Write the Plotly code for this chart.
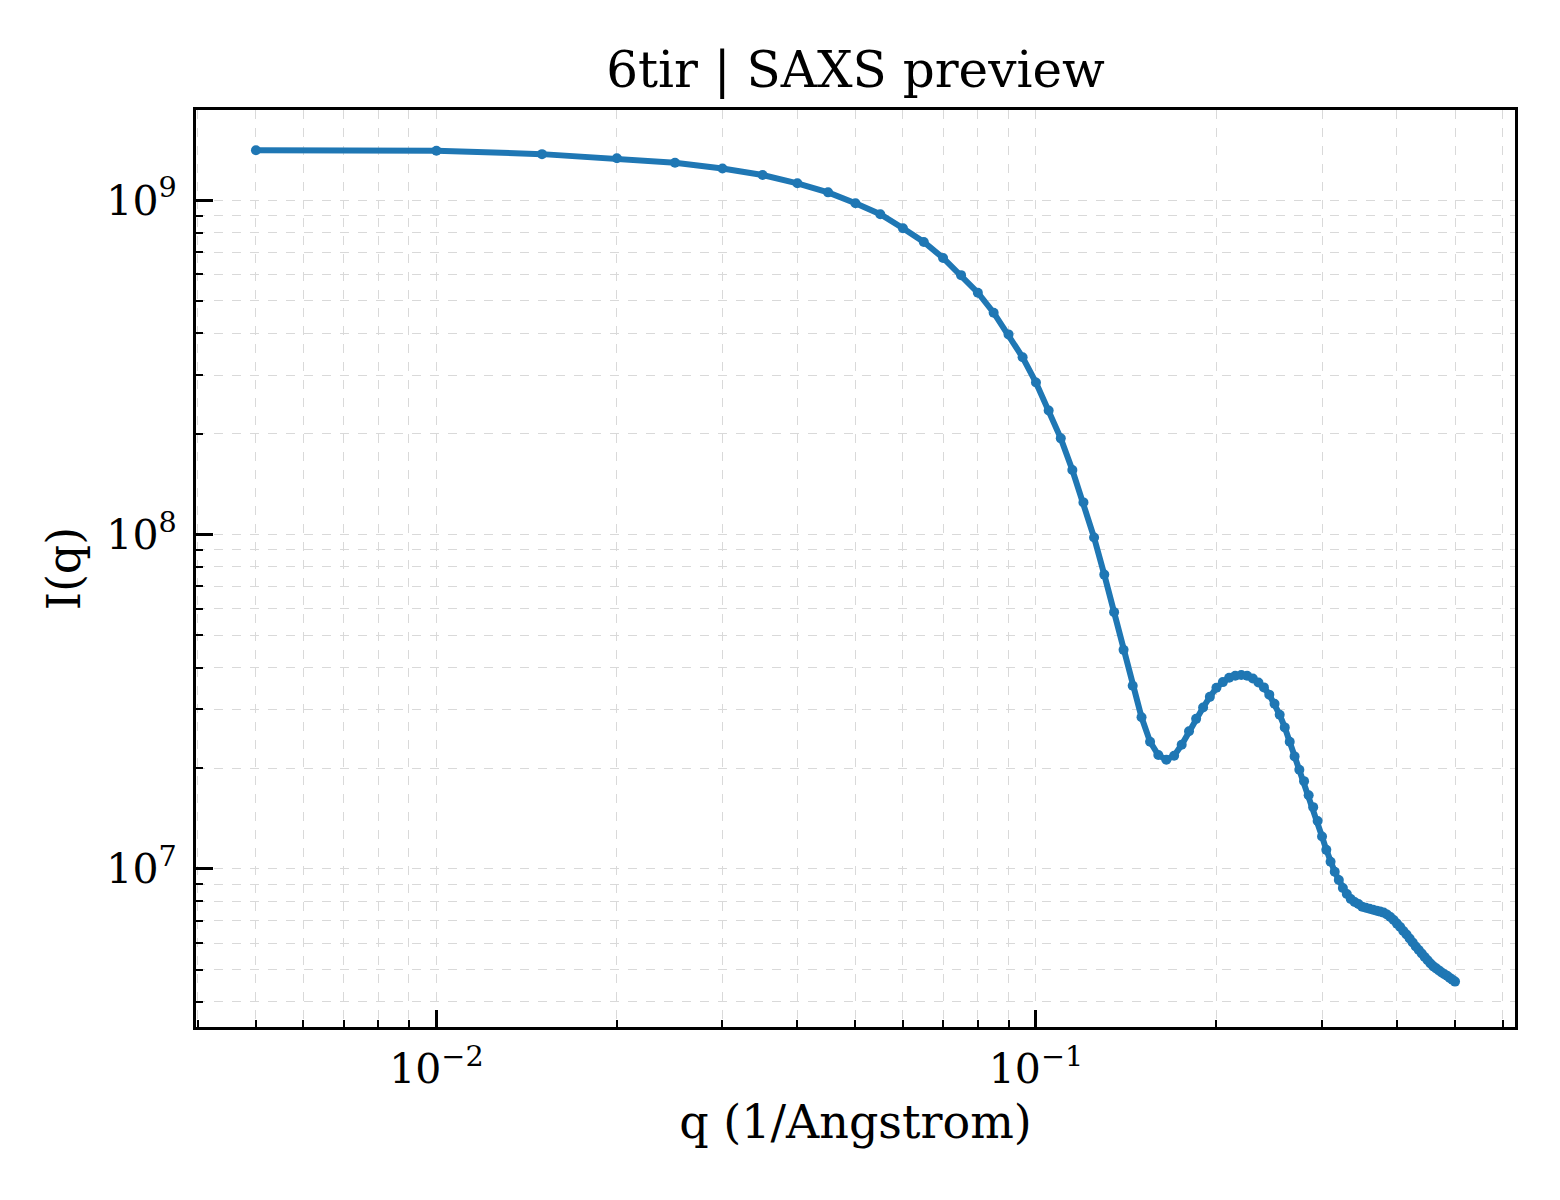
import plotly.graph_objects as go

# q grid of the SAXS profile (1/Angstrom)
q = [round(0.005 * i, 3) for i in range(1, 101)]

# intensity
intensity = [
    1.412e9, 1.406e9, 1.374e9, 1.336e9, 1.295e9, 1.245e9, 1.190e9, 1.124e9, 1.056e9, 9.80e8,
    9.08e8, 8.25e8, 7.50e8, 6.72e8, 5.97e8, 5.29e8, 4.61e8, 3.97e8, 3.39e8, 2.85e8,
    2.35e8, 1.94e8, 1.56e8, 1.248e8, 9.80e7, 7.59e7, 5.86e7, 4.52e7, 3.53e7, 2.84e7,
    2.40e7, 2.19e7, 2.12e7, 2.18e7, 2.35e7, 2.58e7, 2.81e7, 3.04e7, 3.27e7, 3.48e7,
    3.62e7, 3.73e7, 3.78e7, 3.80e7, 3.78e7, 3.71e7, 3.61e7, 3.49e7, 3.32e7, 3.12e7,
    2.89e7, 2.65e7, 2.40e7, 2.17e7, 1.98e7, 1.83e7, 1.66e7, 1.53e7, 1.39e7, 1.25e7,
    1.14e7, 1.05e7, 9.80e6, 9.26e6, 8.77e6, 8.41e6, 8.13e6, 7.96e6, 7.85e6, 7.71e6,
    7.65e6, 7.60e6, 7.55e6, 7.50e6, 7.45e6, 7.40e6, 7.30e6, 7.18e6, 7.03e6, 6.86e6,
    6.70e6, 6.52e6, 6.36e6, 6.19e6, 6.02e6, 5.86e6, 5.72e6, 5.58e6, 5.45e6, 5.33e6,
    5.21e6, 5.11e6, 5.04e6, 4.97e6, 4.90e6, 4.84e6, 4.79e6, 4.72e6, 4.66e6, 4.60e6,
]

x_ticks = [0.01, 0.1]
x_ticktext = ["10<sup>\u22122</sup>", "10<sup>\u22121</sup>"]
y_ticks = [1e7, 1e8, 1e9]
y_ticktext = ["10<sup>7</sup>", "10<sup>8</sup>", "10<sup>9</sup>"]

FONT = "DejaVu Serif"
BLUE = "#1f77b4"
GRID = "#d9d9d9"

fig = go.Figure()
fig.add_trace(go.Scatter(
    x=q, y=intensity, mode="lines+markers",
    line=dict(color=BLUE, width=6),
    marker=dict(color=BLUE, size=10),
    showlegend=False,
))

axis_common = dict(
    type="log",
    showline=True, linecolor="black", linewidth=3, mirror=True,
    ticks="inside", ticklen=17, tickwidth=2.5, tickcolor="black",
    showgrid=True, gridcolor=GRID, gridwidth=1.3, griddash="dash",
    zeroline=False,
    tickfont=dict(family=FONT, size=41, color="black"),
    minor=dict(ticks="inside", ticklen=7, tickwidth=2, tickcolor="black",
               dtick="D1", showgrid=True, gridcolor=GRID, gridwidth=1.1,
               griddash="dash"),
)

fig.update_xaxes(
    **axis_common,
    range=[-2.401, -0.201],
    tickvals=x_ticks, ticktext=x_ticktext,
    ticklabelstandoff=4,
    title=dict(text="q (1/Angstrom)", font=dict(family=FONT, size=46, color="black"),
               standoff=14),
)
fig.update_yaxes(
    **axis_common,
    range=[6.527, 9.27],
    tickvals=y_ticks, ticktext=y_ticktext,
    ticklabelstandoff=8,
    title=dict(text="I(q)", font=dict(family=FONT, size=46, color="black"),
               standoff=12),
)

fig.update_layout(
    width=1560, height=1200,
    margin=dict(l=188, r=53, t=102, b=181),
    paper_bgcolor="white", plot_bgcolor="white",
    title=dict(text="6tir | SAXS preview", x=(188 + 1507) / 2 / 1560, xanchor="center",
               y=1 - 61 / 1200, yanchor="middle",
               font=dict(family=FONT, size=50, color="black")),
)

fig.write_html("out.html")
